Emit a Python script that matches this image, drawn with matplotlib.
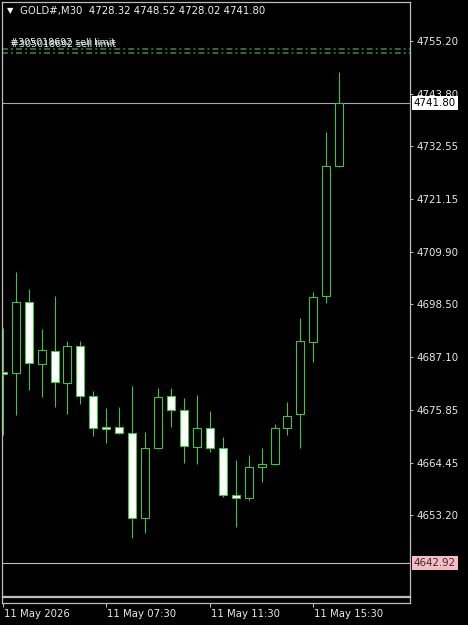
import matplotlib
matplotlib.use("Agg")
import matplotlib.pyplot as plt
from matplotlib.transforms import blended_transform_factory

plt.rcParams["font.family"] = ["DejaVu Sans"]
plt.rcParams["lines.scale_dashes"] = False

# ---------------- data ----------------
header_symbol = "GOLD#,M30"
header_ohlc = "4728.32 4748.52 4728.02 4741.80"

opens = [4683.90, 4683.69, 4699.04, 4685.69, 4688.49, 4681.60, 4689.57, 4678.81, 4672.14,
         4672.14, 4670.84, 4652.55, 4667.62, 4678.81, 4675.79, 4667.83, 4671.92, 4667.62,
         4657.50, 4656.86, 4663.53, 4664.17, 4671.92, 4674.93, 4690.43, 4700.33, 4728.32]
highs = [4693.44, 4705.55, 4701.83, 4693.22, 4700.33, 4690.64, 4690.64, 4679.88, 4676.22,
         4676.44, 4680.96, 4671.06, 4680.53, 4680.53, 4678.38, 4679.02, 4675.58, 4669.98,
         4665.03, 4666.11, 4667.62, 4672.78, 4677.51, 4695.59, 4701.19, 4735.68, 4748.52]
lows = [4670.41, 4674.72, 4680.10, 4678.59, 4676.44, 4674.93, 4677.09, 4670.20, 4668.69,
        4670.63, 4648.25, 4649.33, 4667.40, 4672.14, 4664.39, 4664.17, 4666.76, 4657.07,
        4650.62, 4656.43, 4660.30, 4664.00, 4670.41, 4667.62, 4686.12, 4698.82, 4728.02]
closes = [4683.60, 4698.97, 4685.91, 4688.71, 4681.82, 4689.57, 4678.81, 4671.92, 4671.71,
          4670.84, 4652.55, 4667.62, 4678.59, 4675.79, 4668.05, 4671.92, 4667.62, 4657.50,
          4656.86, 4663.53, 4664.17, 4671.92, 4674.50, 4690.64, 4700.11, 4728.30, 4741.80]

price_ticks = [4755.20, 4743.80, 4732.55, 4721.15, 4709.90, 4698.50, 4687.10, 4675.85,
               4664.45, 4653.20]
price_tick_labels = ["4755.20", "4743.80", "4732.55", "4721.15", "4709.90", "4698.50",
                     "4687.10", "4675.85", "4664.45", "4653.20"]

time_tick_index = [0, 8, 16, 24]
time_tick_labels = ["11 May 2026", "11 May 07:30", "11 May 11:30", "11 May 15:30"]

bid_price = 4741.80
bid_label = "4741.80"
lower_line_price = 4642.92
lower_line_label = "4642.92"

order_prices = [4753.48, 4752.62]
order_labels = ["#305018692 sell limit", "#305018692 sell limit"]

# ---------------- figure ----------------
W, H = 468, 625
fig = plt.figure(figsize=(W / 100, H / 100), dpi=100, facecolor="black")


def frac(x0, y0, x1, y1):
    return [x0 / W, 1 - y1 / H, (x1 - x0) / W, (y1 - y0) / H]


ax = fig.add_axes(frac(2, 2, 410, 596))
ax.set_facecolor("black")
frame = "#bdbdbd"
green = "#44c044"
for s in ax.spines.values():
    s.set_color(frame)
    s.set_linewidth(0.9)

ax.set_xlim(-0.06, 31.47)
ax.set_ylim(4635.77, 4763.59)

# order lines
for p in order_prices:
    ax.axhline(p, color="#3f803f", lw=1.15, linestyle=(0, (4.3, 2.2, 1.4, 2.2)), zorder=1)

# horizontal price lines
ax.axhline(bid_price, color="#a8a8a8", lw=0.8, zorder=1)
ax.axhline(lower_line_price, color="#cdb8b8", lw=0.8, zorder=1)

# candles
xs = list(range(len(opens)))
ax.vlines(xs, lows, highs, color=green, lw=0.8, zorder=2)
for x, o, c in zip(xs, opens, closes):
    bottom = min(o, c)
    height = max(abs(c - o), 0.25)
    fc = "black" if c > o else "white"
    ax.bar(x, height, bottom=bottom, width=0.62, facecolor=fc, edgecolor=green,
           linewidth=0.8, zorder=3)

# order labels
blend = blended_transform_factory(ax.transAxes, ax.transData)
for i, (p, lab) in enumerate(zip(order_prices, order_labels)):
    ax.annotate(lab, xy=(0, p), xycoords=blend, xytext=(8 + i, 2 + 2 * i),
                textcoords="offset pixels", ha="left", va="bottom", fontsize=6.8,
                color=["#f0f0f0", "#d0f4ee"][i], zorder=5)

# right price axis
ax.yaxis.tick_right()
ax.set_yticks(price_ticks)
ax.set_yticklabels(price_tick_labels)
ax.tick_params(axis="y", colors=frame, length=2.5, width=0.7, pad=2,
               labelsize=7.4, labelcolor="#e8e8e8")
ax.set_xticks([])

# boxed price labels
ax.annotate(bid_label, xy=(1, bid_price), xycoords=blend, xytext=(4, 0),
            textcoords="offset pixels", ha="left", va="center", fontsize=7.4,
            color="black", annotation_clip=False,
            bbox=dict(boxstyle="square,pad=0.18", fc="white", ec="none"))
ax.annotate(lower_line_label, xy=(1, lower_line_price), xycoords=blend, xytext=(4, 0),
            textcoords="offset pixels", ha="left", va="center", fontsize=7.4,
            color="#3a2a2a", annotation_clip=False,
            bbox=dict(boxstyle="square,pad=0.18", fc="#f6bcc6", ec="none"))

# header
fig.text(7 / W, 1 - 11 / H, "\u25bc", color="white", fontsize=6, va="center", ha="left")
fig.text(20 / W, 1 - 11 / H, header_symbol + "  " + header_ohlc, color="#f0f0f0",
         fontsize=7.3, va="center", ha="left")

# time scroll strip with ticks
strip = fig.add_axes(frac(2, 597, 410, 603), sharex=ax)
strip.set_facecolor("black")
for s in strip.spines.values():
    s.set_color(frame)
    s.set_linewidth(0.9)
strip.set_yticks([])
strip.set_xticks(time_tick_index)
strip.set_xticklabels([])
strip.tick_params(axis="x", colors=frame, length=3, width=0.8)
strip.set_xlim(-0.06, 31.47)

tblend = blended_transform_factory(strip.transData, strip.transAxes)
for idx, lab in zip(time_tick_index, time_tick_labels):
    strip.annotate(lab, xy=(idx, 0), xycoords=tblend, xytext=(1, -6),
                   textcoords="offset pixels", ha="left", va="top", fontsize=7.3,
                   color="#e8e8e8", annotation_clip=False)

fig.savefig("out.png", dpi=100, facecolor="black")
